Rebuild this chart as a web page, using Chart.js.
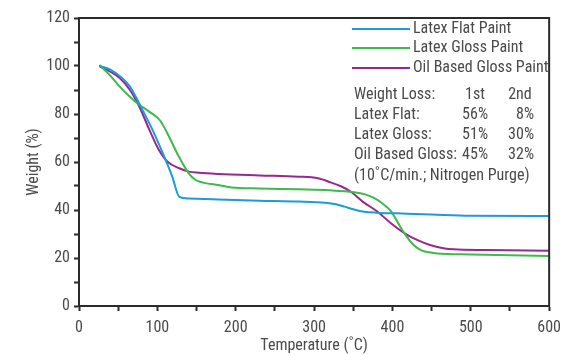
<!DOCTYPE html>
<html>
<head>
<meta charset="utf-8">
<script src="https://cdn.jsdelivr.net/npm/chart.js@4"></script>
<style>
  html, body { margin: 0; padding: 0; background: #fff; }
  #wrap { width: 568px; height: 355px; position: relative; }
</style>
</head>
<body>
<div id="wrap"><canvas id="c"></canvas></div>
<script>
'use strict';
/* datos: temperatura (°C) y peso (%) */
const seriesNames = ['Latex Flat Paint', 'Latex Gloss Paint', 'Oil Based Gloss Paint'];
const seriesColors = ['#1b9bd7', '#3dba4b', '#95298f'];

const flatT = [26, 40, 55, 65, 81, 94, 107, 119, 128, 140, 178, 230, 280, 314, 328, 339, 352, 364, 380, 406, 450, 500, 600];
const flatW = [100, 98.5, 95, 91.4, 81.7, 73.3, 63.6, 53.9, 45.5, 44.8, 44.4, 43.9, 43.5, 43, 42.4, 41.4, 40.1, 39.3, 38.9, 38.6, 38.1, 37.6, 37.5];

const glossT = [26, 39, 52, 65, 75, 90, 103, 115, 127, 140, 149, 160, 178, 195, 230, 280, 320, 351, 365, 377, 388, 398, 410, 418, 427, 437, 447, 457, 500, 600];
const glossW = [100.4, 96.3, 91.4, 87.2, 84.3, 80.9, 77.5, 70.5, 62.5, 55.3, 52.5, 51.3, 50.4, 49.4, 49, 48.6, 48.2, 47.4, 46.5, 44.9, 42.5, 39.5, 33, 29, 25.4, 23.2, 22.4, 21.9, 21.5, 20.8];

const oilT = [26, 40, 52, 65, 77, 90, 102, 113, 128, 140, 153, 178, 230, 280, 305, 322, 335, 347, 362, 381, 398, 419, 435, 448, 465, 478, 520, 600];
const oilW = [100, 97.6, 95, 90, 83, 73.3, 65, 60.1, 57.4, 56, 55.5, 55, 54.4, 53.9, 53.2, 51.4, 49.8, 47.6, 43.5, 39.3, 34.5, 29.6, 27, 25.4, 24.1, 23.6, 23.3, 23];

const yTicks = [0, 20, 40, 60, 80, 100, 120];
const xTicks = [0, 100, 200, 300, 400, 500, 600];

const lossRows = [
  ['Weight Loss:', '1st', '2nd'],
  ['Latex Flat:', '56%', '8%'],
  ['Latex Gloss:', '51%', '30%'],
  ['Oil Based Gloss:', '45%', '32%'],
];
const noteText = '(10\u02DAC/min.; Nitrogen Purge)';

const FONT = "'Liberation Sans Narrow', 'Arial Narrow', 'Roboto Condensed', sans-serif";
const INK = '#4a4a4a';
const AXIS = '#2b2b2b';

const pts = (xs, ys) => xs.map((x, i) => ({ x, y: ys[i] }));
const seriesData = [pts(flatT, flatW), pts(glossT, glossW), pts(oilT, oilW)];

/* marco + leyenda + tabla dentro del área del gráfico */
const framePlugin = {
  id: 'frame',
  afterDraw(chart) {
    const { ctx, chartArea: a } = chart;
    ctx.save();
    ctx.strokeStyle = AXIS;
    ctx.lineWidth = 2;
    ctx.beginPath();
    ctx.moveTo(a.left, a.top); ctx.lineTo(a.right, a.top); ctx.lineTo(a.right, a.bottom);
    ctx.stroke();

    ctx.font = '16px ' + FONT;
    ctx.textBaseline = 'middle';
    ctx.fillStyle = INK;
    const legY = [29, 48, 68];
    seriesNames.forEach((n, i) => {
      ctx.strokeStyle = seriesColors[i];
      ctx.lineWidth = 2;
      ctx.beginPath(); ctx.moveTo(352, legY[i]); ctx.lineTo(410, legY[i]); ctx.stroke();
      ctx.fillText(n, 413, legY[i]);
    });
    const rowY = [95, 115, 135, 155];
    lossRows.forEach((r, i) => {
      ctx.textAlign = 'left';
      ctx.fillText(r[0], 354, rowY[i]);
      if (i === 0) {
        ctx.textAlign = 'center';
        ctx.fillText(r[1], 475, rowY[i]);
        ctx.fillText(r[2], 520, rowY[i]);
      } else {
        ctx.textAlign = 'right';
        ctx.fillText(r[1], 488, rowY[i]);
        ctx.fillText(r[2], 534, rowY[i]);
      }
    });
    ctx.textAlign = 'left';
    ctx.fillText(noteText, 354, 176);
    ctx.restore();
  },
};

const labelEvery = step => v => (v % step === 0 ? v : '');

new Chart(document.getElementById('c'), {
  type: 'line',
  data: {
    datasets: seriesData.map((d, i) => ({
      label: seriesNames[i], data: d, borderColor: seriesColors[i], borderWidth: 2,
      pointRadius: 0, cubicInterpolationMode: 'monotone', fill: false,
    })),
  },
  options: {
    responsive: true, maintainAspectRatio: false, animation: false,
    layout: { padding: { top: 18, right: 15, left: 0, bottom: 0 } },
    plugins: { legend: { display: false }, tooltip: { enabled: false } },
    scales: {
      x: {
        type: 'linear', min: 0, max: 600,
        grid: { drawOnChartArea: false, tickLength: 5, tickColor: AXIS, tickWidth: 2 },
        border: { color: AXIS, width: 2 },
        ticks: { stepSize: 50, autoSkip: false, maxRotation: 0, padding: 7, color: INK, font: { family: FONT, size: 16 }, callback: labelEvery(100) },
        title: { display: true, text: 'Temperature (\u02DAC)', color: INK, font: { family: FONT, size: 16 }, padding: { top: 0, bottom: -1 } },
        afterFit: s => { s.height = 49; },
      },
      y: {
        type: 'linear', min: 0, max: 120,
        grid: { drawOnChartArea: false, tickLength: 5, tickColor: AXIS, tickWidth: 2 },
        border: { color: AXIS, width: 2 },
        ticks: { stepSize: 10, autoSkip: false, padding: 4, color: INK, font: { family: FONT, size: 16 }, callback: labelEvery(20) },
        title: { display: true, text: 'Weight (%)', color: INK, font: { family: FONT, size: 16 }, padding: { top: 24, bottom: 0 } },
        afterFit: s => { s.width = 79; },
      },
    },
  },
  plugins: [framePlugin],
});
</script>
</body>
</html>
